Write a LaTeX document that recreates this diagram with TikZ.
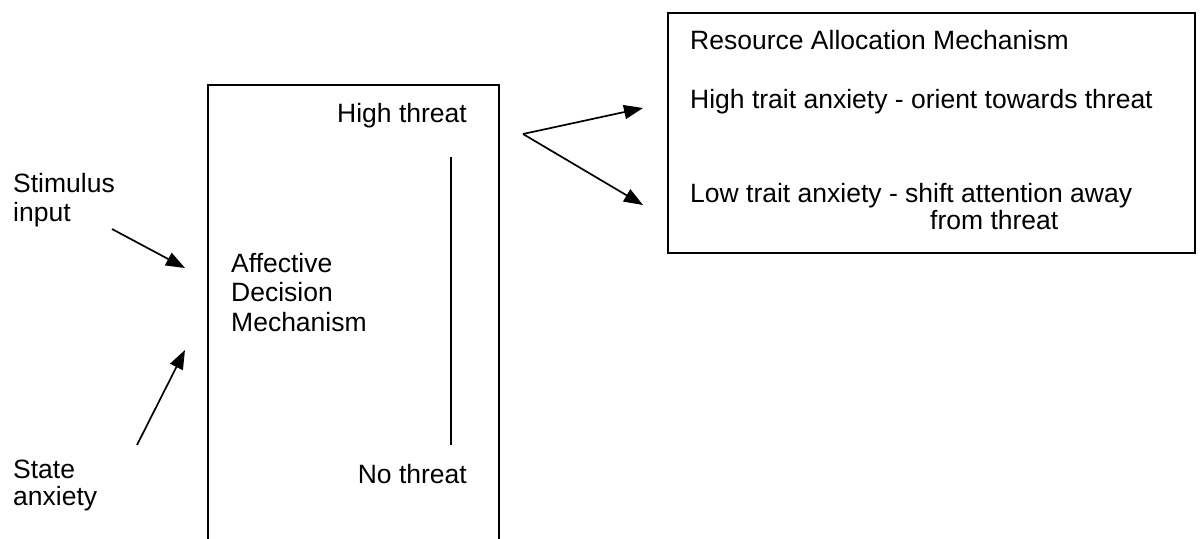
\documentclass[tikz,border=0pt]{standalone}
\usepackage{fontspec}
\setmainfont{Liberation Sans}
\usetikzlibrary{arrows.meta}
\begin{document}
\begin{tikzpicture}[x=1pt,y=-1pt,
  lbl/.style={inner sep=0pt,anchor=base west,align=left,font=\fontsize{26.5pt}{28.5pt}\selectfont},
  frame/.style={line width=1.8pt},
  arr/.style={line width=1.7pt,-{Triangle[length=19pt,width=14pt]}}]
\useasboundingbox (0,0) rectangle (1201,538);
% left (open) box
\draw[frame] (208,545) -- (208,85) -- (499,85) -- (499,545);
% inner scale line
\coordinate (scTop) at (451,157);
\coordinate (scBot) at (451,445);
\draw[line width=1.5pt] (scTop) -- (scBot);
% texts in left box
\node[lbl,anchor=base east] (high) at (467,122) {High threat};
\node[lbl,anchor=base east] (no) at (467,483) {No threat};
\node[lbl,font=\fontsize{26.5pt}{29.5pt}\selectfont] (adm) at (231,331) {Affective\\Decision\\Mechanism};
% inputs
\node[lbl] (stim) at (13,221) {Stimulus\\input};
\node[lbl,font=\fontsize{26.5pt}{27pt}\selectfont] (state) at (13,505) {State\\anxiety};
\coordinate (stimT) at (112,229);
\coordinate (stimH) at (185,268);
\coordinate (stateT) at (137,445);
\coordinate (stateH) at (185,350);
\draw[arr] (stimT) -- (stimH);
\draw[arr] (stateT) -- (stateH);
% right box
\node[draw,frame,minimum width=527pt,minimum height=240pt,inner sep=0pt] (ram) at (931.5,133) {};
\node[lbl] (ramT) at (690,49) {Resource Allocation Mechanism};
\node[lbl] (hta) at (690,108) {High trait anxiety - orient towards threat};
\node[lbl] (lta) at (690,202) {Low trait anxiety - shift attention away};
\node[lbl] (lta2) at (930,229) {from threat};
% branching arrows
\coordinate (fork) at (523,134);
\coordinate (upH) at (643,108);
\coordinate (dnH) at (643,205);
\draw[arr] (fork) -- (upH);
\draw[arr] (fork) -- (dnH);
\end{tikzpicture}
\end{document}
